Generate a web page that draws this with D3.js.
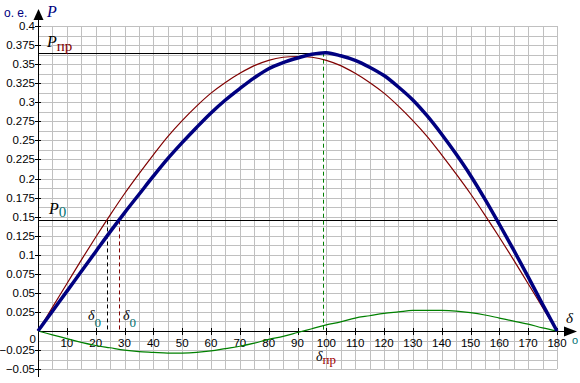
<!DOCTYPE html>
<html>
<head>
<meta charset="utf-8">
<script src="https://cdn.jsdelivr.net/npm/d3@7"></script>
<style>
  body { margin: 0; background: #fff; }
  svg { display: block; }
  text { font-family: "Liberation Sans", Arial, sans-serif; }
  .it { font-family: "Liberation Serif", "DejaVu Serif", serif; font-style: italic; }
</style>
</head>
<body>
<svg id="chart" width="580" height="383"></svg>
<script>
// angle, degrees
const delta = [0, 5, 10, 15, 20, 25, 30, 35, 40, 45, 50, 55, 60, 65, 70, 75, 80, 85, 90,
  95, 100, 105, 110, 115, 120, 125, 130, 135, 140, 145, 150, 155, 160, 165, 170, 175, 180];

// thin red curve
const pRed = [0, 0.031, 0.062, 0.093, 0.123, 0.152, 0.180, 0.206, 0.231, 0.255, 0.276, 0.295,
  0.312, 0.326, 0.338, 0.348, 0.355, 0.359, 0.360, 0.359, 0.355, 0.348, 0.338, 0.326, 0.312,
  0.295, 0.276, 0.255, 0.231, 0.206, 0.180, 0.152, 0.123, 0.093, 0.062, 0.031, 0];

// green curve
const pGreen = [0, -0.005, -0.010, -0.015, -0.019, -0.022, -0.025, -0.027, -0.028, -0.029,
  -0.029, -0.028, -0.026, -0.023, -0.020, -0.016, -0.011, -0.007, -0.002, 0.003, 0.008, 0.012,
  0.017, 0.020, 0.023, 0.025, 0.027, 0.027, 0.027, 0.026, 0.024, 0.021, 0.017, 0.013, 0.009, 0.004, 0];

// thick blue curve
const pBlue = [0, 0.026, 0.052, 0.078, 0.104, 0.130, 0.155, 0.179, 0.203, 0.226, 0.247, 0.267,
  0.286, 0.303, 0.318, 0.332, 0.344, 0.352, 0.358, 0.363, 0.365, 0.361, 0.355, 0.346, 0.335,
  0.320, 0.303, 0.282, 0.258, 0.232, 0.204, 0.173, 0.140, 0.106, 0.071, 0.035, 0];

const yTicks = [-0.05, -0.025, 0.025, 0.05, 0.075, 0.1, 0.125, 0.15, 0.175, 0.2, 0.225, 0.25,
  0.275, 0.3, 0.325, 0.35, 0.375, 0.4];
const xTicks = [10, 20, 30, 40, 50, 60, 70, 80, 90, 100, 110, 120, 130, 140, 150, 160, 170, 180];

const P0 = 0.145;
const Ppr = 0.365;
const delta0Red = 23.8;
const delta0Blue = 28.0;
const deltaPr = 99;

const svg = d3.select('#chart');
const x = d3.scaleLinear().domain([0, 180]).range([38, 557]);
const y = d3.scaleLinear().domain([0, 0.4]).range([331, 26]);

// grid
const grid = svg.append('g').attr('stroke', '#c0c0c0').attr('stroke-width', 1).attr('shape-rendering', 'crispEdges');
grid.selectAll('line.v')
  .data(d3.range(5, 181, 5))
  .join('line')
  .attr('x1', d => Math.round(x(d)) + 0.5).attr('x2', d => Math.round(x(d)) + 0.5)
  .attr('y1', y(0.4)).attr('y2', y(-0.05));
grid.selectAll('line.h')
  .data(d3.range(-4, 33).map(i => i * 0.0125))
  .join('line')
  .attr('x1', x(0)).attr('x2', x(180))
  .attr('y1', d => Math.round(y(d)) + 0.5).attr('y2', d => Math.round(y(d)) + 0.5);

// axes
const ax = svg.append('g').attr('stroke', '#000').attr('shape-rendering', 'crispEdges');
ax.append('line').attr('x1', x(0) + 0.5).attr('x2', x(0) + 0.5).attr('y1', 14).attr('y2', 377);
ax.append('line').attr('x1', x(0)).attr('x2', 570).attr('y1', Math.round(y(0)) + 0.5).attr('y2', Math.round(y(0)) + 0.5);
ax.selectAll('line.xt')
  .data(xTicks)
  .join('line')
  .attr('x1', d => Math.round(x(d)) + 0.5).attr('x2', d => Math.round(x(d)) + 0.5)
  .attr('y1', y(0) - 3).attr('y2', y(0) + 4);
ax.selectAll('line.yt')
  .data(yTicks)
  .join('line')
  .attr('x1', x(0) - 3).attr('x2', x(0) + 3)
  .attr('y1', d => Math.round(y(d)) + 0.5).attr('y2', d => Math.round(y(d)) + 0.5);
svg.append('path').attr('d', 'M38.5,9 L33.5,20 L43.5,20 Z').attr('fill', '#000');
svg.append('path').attr('d', 'M577,331.5 L564,326.5 L564,336.5 Z').attr('fill', '#000');

// tick labels
svg.append('g').selectAll('text')
  .data(yTicks)
  .join('text')
  .attr('x', 35).attr('y', d => y(d) + 4)
  .attr('text-anchor', 'end').attr('font-size', 11.5)
  .text(d => d3.format('')(+d.toFixed(3)));
svg.append('g').selectAll('text')
  .data(xTicks)
  .join('text')
  .attr('x', d => x(d)).attr('y', 347)
  .attr('text-anchor', 'middle').attr('font-size', 11.5)
  .text(d => d);
svg.append('text').attr('x', 36).attr('y', 343).attr('text-anchor', 'end').attr('font-size', 11.5).text('0');

// reference lines
svg.append('line').attr('x1', x(0)).attr('x2', x(deltaPr))
  .attr('y1', Math.round(y(Ppr)) + 0.5).attr('y2', Math.round(y(Ppr)) + 0.5).attr('stroke', '#000');
svg.append('line').attr('x1', x(0)).attr('x2', x(180))
  .attr('y1', Math.round(y(P0)) + 0.5).attr('y2', Math.round(y(P0)) + 0.5).attr('stroke', '#000');

const dashed = (d, top, color) => svg.append('line')
  .attr('x1', Math.round(x(d)) + 0.5).attr('x2', Math.round(x(d)) + 0.5)
  .attr('y1', y(top)).attr('y2', y(0))
  .attr('stroke', color).attr('stroke-dasharray', '4,3');
dashed(delta0Red, P0, '#000');
dashed(delta0Blue, P0, '#800000');
dashed(deltaPr, Ppr, '#008000');

// curves
const line = vals => d3.line()
  .x((d, i) => x(delta[i]))
  .y(d => y(d))
  .curve(d3.curveCatmullRom)(vals);
svg.append('path').attr('d', line(pGreen)).attr('fill', 'none').attr('stroke', '#008000').attr('stroke-width', 1.2);
svg.append('path').attr('d', line(pRed)).attr('fill', 'none').attr('stroke', '#800000').attr('stroke-width', 1.2);
svg.append('path').attr('d', line(pBlue)).attr('fill', 'none').attr('stroke', '#000080').attr('stroke-width', 3.5);

// labels
svg.append('text').attr('x', 4).attr('y', 17).attr('font-size', 12).attr('fill', '#000080').text('о. е.');
svg.append('text').attr('class', 'it').attr('x', 47).attr('y', 17).attr('font-size', 16).attr('fill', '#000080').text('P');

const sub = (xp, yp, main, s, mainColor, subColor, dy, size) => {
  const t = svg.append('text').attr('class', 'it').attr('x', xp).attr('y', yp).attr('font-size', size).attr('fill', mainColor);
  t.append('tspan').text(main);
  t.append('tspan').attr('dy', dy).attr('font-style', 'normal').attr('font-size', size - 1).attr('fill', subColor).text(s);
};
sub(47, 47, 'P', 'пр', '#000', '#800000', 4, 16);
sub(49, 214, 'P', '0', '#000', '#007070', 3, 16);
sub(88, 320, 'δ', '0', '#000', '#007070', 7, 14);
sub(123, 320, 'δ', '0', '#000', '#007070', 7, 14);
sub(316, 361, 'δ', 'пр', '#000', '#a00000', 3, 14);
svg.append('text').attr('class', 'it').attr('x', 566).attr('y', 323).attr('font-size', 15).text('δ');
svg.append('text').attr('x', 572).attr('y', 344).attr('font-size', 11).attr('fill', '#007070').text('o');
</script>
</body>
</html>
